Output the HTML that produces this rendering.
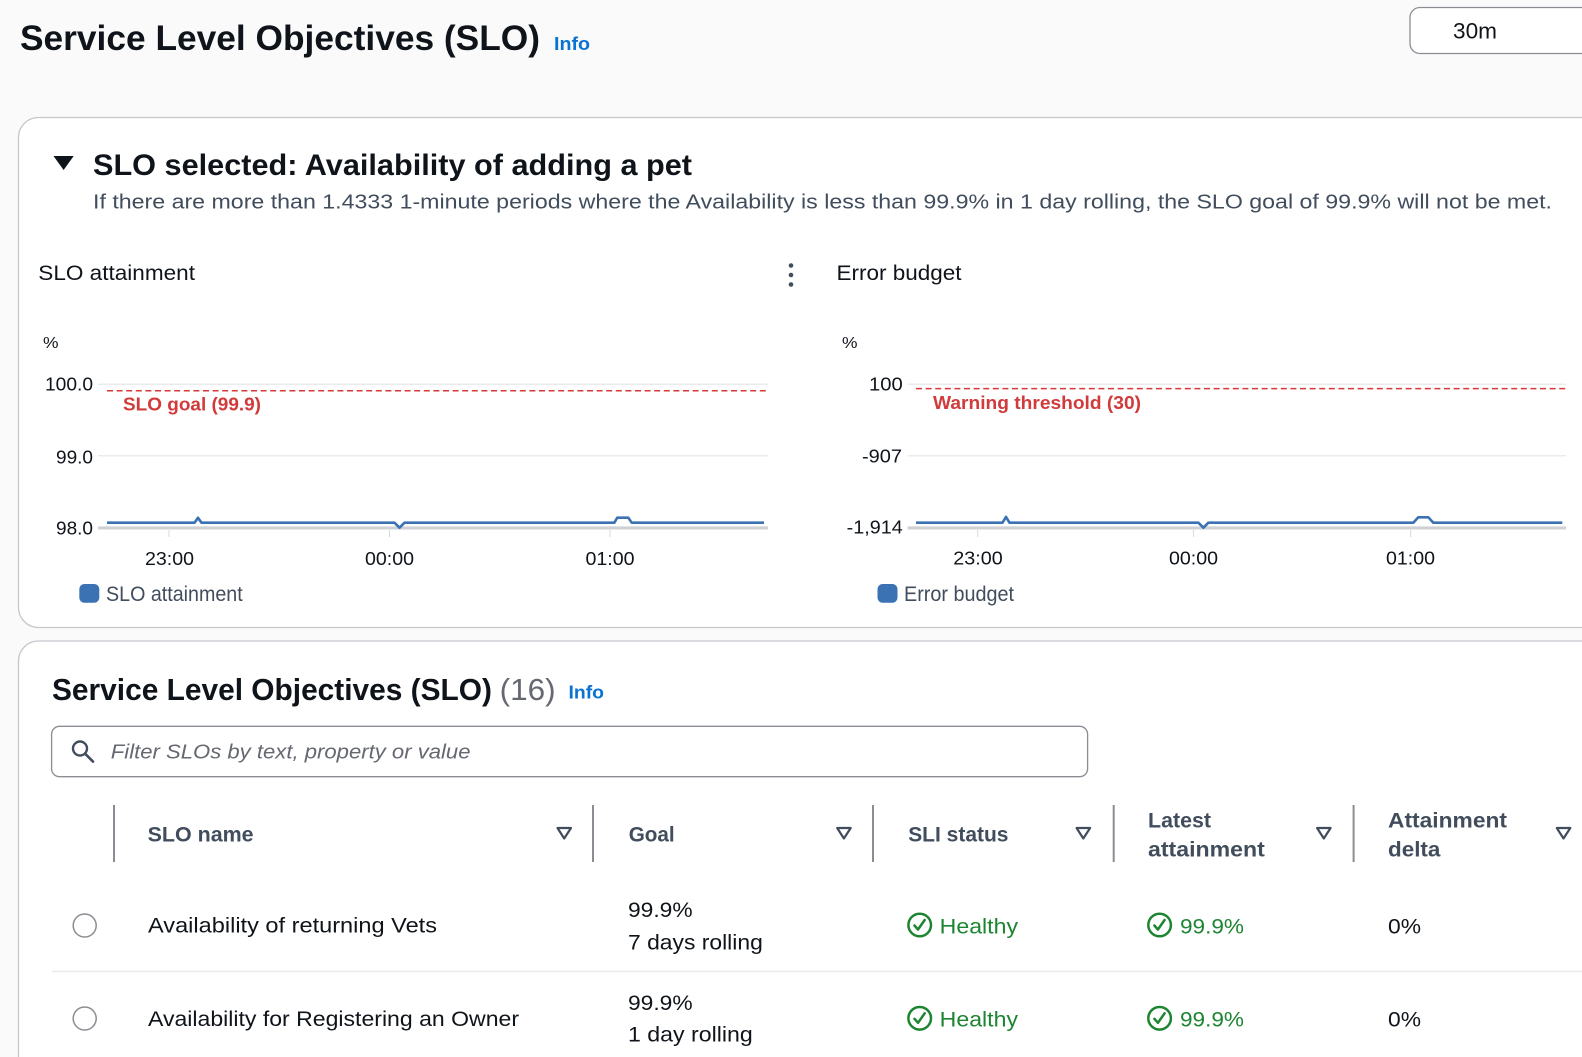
<!DOCTYPE html>
<html><head><meta charset="utf-8"><style>
html,body{margin:0;padding:0;background:#fafafa;width:1582px;height:1057px;overflow:hidden;}
svg{display:block;}
text{font-family:"Liberation Sans",Arial,sans-serif;}
</style></head><body>
<svg width="1582" height="1057" viewBox="0 0 1582 1057" xmlns="http://www.w3.org/2000/svg" overflow="hidden">
<defs><clipPath id="pg"><rect x="0" y="0" width="1582" height="1057"/></clipPath></defs>
<g clip-path="url(#pg)">
<rect x="0" y="0" width="1582" height="1057" fill="#fafafa"/>

<!-- Header -->
<text x="20" y="50" font-size="35" font-weight="bold" fill="#0f141a" textLength="520" lengthAdjust="spacingAndGlyphs">Service Level Objectives (SLO)</text>
<text x="554" y="50" font-size="18" font-weight="bold" fill="#0972d3" textLength="36" lengthAdjust="spacingAndGlyphs">Info</text>
<rect x="1410" y="7.5" width="200" height="46" rx="10" fill="#ffffff" stroke="#8c8c94" stroke-width="1.3"/>
<text x="1453" y="38.5" font-size="22" fill="#0f141a" textLength="44" lengthAdjust="spacingAndGlyphs">30m</text>

<!-- Panel 1 -->
<rect x="18.5" y="117.5" width="1600" height="510" rx="20" fill="#ffffff" stroke="#c6c6cd" stroke-width="1.3"/>
<polygon points="53.5,156 73.7,156 63.6,170" fill="#0f141a"/>
<text x="93" y="175" font-size="29.5" font-weight="bold" fill="#0f141a" textLength="599" lengthAdjust="spacingAndGlyphs">SLO selected: Availability of adding a pet</text>
<text x="93" y="208.3" font-size="20" fill="#414d5c" textLength="1459" lengthAdjust="spacingAndGlyphs">If there are more than 1.4333 1-minute periods where the Availability is less than 99.9% in 1 day rolling, the SLO goal of 99.9% will not be met.</text>

<text x="38.3" y="280" font-size="21" fill="#0f141a" textLength="156.7" lengthAdjust="spacingAndGlyphs">SLO attainment</text>
<circle cx="791" cy="265.5" r="2.3" fill="#414d5c"/>
<circle cx="791" cy="275" r="2.3" fill="#414d5c"/>
<circle cx="791" cy="284.5" r="2.3" fill="#414d5c"/>
<text x="836.5" y="280" font-size="21" fill="#0f141a" textLength="125" lengthAdjust="spacingAndGlyphs">Error budget</text>

<!-- Left chart -->
<text x="43" y="348" font-size="16" fill="#0f141a" textLength="15.5" lengthAdjust="spacingAndGlyphs">%</text>
<line x1="98" y1="384.3" x2="768" y2="384.3" stroke="#e9ebed" stroke-width="1.5"/>
<line x1="98" y1="455.7" x2="768" y2="455.7" stroke="#e9ebed" stroke-width="1.5"/>
<line x1="98" y1="527" x2="768" y2="527" stroke="#e9ebed" stroke-width="1.5"/>
<line x1="98" y1="528" x2="768" y2="528" stroke="#d0d1d5" stroke-width="3"/>
<line x1="169" y1="530" x2="169" y2="537" stroke="#d8d8dc" stroke-width="1"/>
<line x1="389.5" y1="530" x2="389.5" y2="537" stroke="#d8d8dc" stroke-width="1"/>
<line x1="610" y1="530" x2="610" y2="537" stroke="#d8d8dc" stroke-width="1"/>
<text x="45" y="390.7" font-size="18.7" fill="#0f141a" textLength="48" lengthAdjust="spacingAndGlyphs">100.0</text>
<text x="56" y="463.3" font-size="18.7" fill="#0f141a" textLength="37" lengthAdjust="spacingAndGlyphs">99.0</text>
<text x="56" y="534.3" font-size="18.7" fill="#0f141a" textLength="37" lengthAdjust="spacingAndGlyphs">98.0</text>
<line x1="107" y1="390.7" x2="766" y2="390.7" stroke="#d63a3a" stroke-width="1.5" stroke-dasharray="6,3.6"/>
<text x="123" y="410.7" font-size="18.5" font-weight="bold" fill="#d13b3b" textLength="138" lengthAdjust="spacingAndGlyphs">SLO goal (99.9)</text>
<polyline points="107,522.7 194.5,522.7 198,517.7 201.5,522.7 394.5,522.7 399.5,527.7 404.5,522.7 614.3,522.7 617.3,517.7 628.3,517.7 631.7,522.7 764,522.7" fill="none" stroke="#3b72b4" stroke-width="2.6" stroke-linejoin="round"/>
<text x="145" y="565" font-size="18.7" fill="#0f141a" textLength="49" lengthAdjust="spacingAndGlyphs">23:00</text>
<text x="365" y="565" font-size="18.7" fill="#0f141a" textLength="49" lengthAdjust="spacingAndGlyphs">00:00</text>
<text x="585.5" y="565" font-size="18.7" fill="#0f141a" textLength="49" lengthAdjust="spacingAndGlyphs">01:00</text>
<rect x="79.3" y="584" width="20" height="18.7" rx="5" fill="#3b72b4"/>
<text x="106" y="601" font-size="21" fill="#414d5c" textLength="136.7" lengthAdjust="spacingAndGlyphs">SLO attainment</text>

<!-- Right chart -->
<text x="842" y="348" font-size="16" fill="#0f141a" textLength="15.5" lengthAdjust="spacingAndGlyphs">%</text>
<line x1="907.7" y1="384.3" x2="1566" y2="384.3" stroke="#e9ebed" stroke-width="1.5"/>
<line x1="907.7" y1="455.7" x2="1566" y2="455.7" stroke="#e9ebed" stroke-width="1.5"/>
<line x1="907.7" y1="527" x2="1566" y2="527" stroke="#e9ebed" stroke-width="1.5"/>
<line x1="907.7" y1="528" x2="1566" y2="528" stroke="#d0d1d5" stroke-width="3"/>
<line x1="977.7" y1="530" x2="977.7" y2="537" stroke="#d8d8dc" stroke-width="1"/>
<line x1="1193.6" y1="530" x2="1193.6" y2="537" stroke="#d8d8dc" stroke-width="1"/>
<line x1="1410.7" y1="530" x2="1410.7" y2="537" stroke="#d8d8dc" stroke-width="1"/>
<text x="869" y="390.7" font-size="18.7" fill="#0f141a" textLength="33.7" lengthAdjust="spacingAndGlyphs">100</text>
<text x="862" y="462.3" font-size="18.7" fill="#0f141a" textLength="40" lengthAdjust="spacingAndGlyphs">-907</text>
<text x="846.7" y="533.3" font-size="18.7" fill="#0f141a" textLength="56" lengthAdjust="spacingAndGlyphs">-1,914</text>
<line x1="916" y1="388.6" x2="1566" y2="388.6" stroke="#d63a3a" stroke-width="1.5" stroke-dasharray="6,3.6"/>
<text x="933" y="409" font-size="18.5" font-weight="bold" fill="#d13b3b" textLength="208" lengthAdjust="spacingAndGlyphs">Warning threshold (30)</text>
<polyline points="916,522.7 1002.5,522.7 1006,516.9 1009.5,522.7 1198.4,522.7 1203.4,527.7 1208.4,522.7 1413.3,522.7 1418.3,517.3 1428.3,517.3 1433.3,522.7 1562.3,522.7" fill="none" stroke="#3b72b4" stroke-width="2.6" stroke-linejoin="round"/>
<text x="953.3" y="564.3" font-size="18.7" fill="#0f141a" textLength="49.4" lengthAdjust="spacingAndGlyphs">23:00</text>
<text x="1169" y="564.3" font-size="18.7" fill="#0f141a" textLength="49" lengthAdjust="spacingAndGlyphs">00:00</text>
<text x="1386" y="564.3" font-size="18.7" fill="#0f141a" textLength="49" lengthAdjust="spacingAndGlyphs">01:00</text>
<rect x="877.5" y="584" width="20" height="18.7" rx="5" fill="#3b72b4"/>
<text x="904" y="601" font-size="21" fill="#414d5c" textLength="110" lengthAdjust="spacingAndGlyphs">Error budget</text>

<!-- Panel 2 -->
<rect x="18.5" y="641" width="1600" height="440" rx="20" fill="#ffffff" stroke="#c6c6cd" stroke-width="1.3"/>
<text x="52" y="700" font-size="31" font-weight="bold" fill="#0f141a" textLength="440" lengthAdjust="spacingAndGlyphs">Service Level Objectives (SLO)</text>
<text x="499.6" y="700" font-size="31" fill="#656871" textLength="56" lengthAdjust="spacingAndGlyphs">(16)</text>
<text x="568.5" y="698.7" font-size="18" font-weight="bold" fill="#0972d3" textLength="35.5" lengthAdjust="spacingAndGlyphs">Info</text>

<rect x="51.6" y="726.3" width="1036" height="50.4" rx="8" fill="#ffffff" stroke="#8c8c94" stroke-width="1.3"/>
<circle cx="80" cy="748.5" r="7" fill="none" stroke="#414d5c" stroke-width="2.4"/>
<line x1="85.2" y1="753.8" x2="93" y2="761.6" stroke="#414d5c" stroke-width="2.6" stroke-linecap="round"/>
<text x="110.8" y="758.3" font-size="20.5" font-style="italic" fill="#656871" textLength="359.7" lengthAdjust="spacingAndGlyphs">Filter SLOs by text, property or value</text>

<!-- table header -->
<g stroke="#8c8c94" stroke-width="2">
<line x1="114" y1="805" x2="114" y2="862"/>
<line x1="593" y1="805" x2="593" y2="862"/>
<line x1="873" y1="805" x2="873" y2="862"/>
<line x1="1113.7" y1="805" x2="1113.7" y2="862"/>
<line x1="1353.6" y1="805" x2="1353.6" y2="862"/>
</g>
<g fill="none" stroke="#414d5c" stroke-width="2.2" stroke-linejoin="round">
<polygon points="557.5,828 571,828 564.2,838.5"/>
<polygon points="837.2,828 850.7,828 843.9,838.5"/>
<polygon points="1076.6,828 1090.1,828 1083.3,838.5"/>
<polygon points="1317.1,828 1330.6,828 1323.8,838.5"/>
<polygon points="1556.8,828 1570.3,828 1563.5,838.5"/>
</g>
<g font-size="21" font-weight="bold" fill="#414d5c">
<text x="147.6" y="841.5" textLength="106" lengthAdjust="spacingAndGlyphs">SLO name</text>
<text x="628.7" y="841.5" textLength="46" lengthAdjust="spacingAndGlyphs">Goal</text>
<text x="908.2" y="841.5" textLength="100.3" lengthAdjust="spacingAndGlyphs">SLI status</text>
<text x="1148" y="827.5" textLength="63" lengthAdjust="spacingAndGlyphs">Latest</text>
<text x="1148" y="856.5" textLength="116.8" lengthAdjust="spacingAndGlyphs">attainment</text>
<text x="1388" y="827.5" textLength="119" lengthAdjust="spacingAndGlyphs">Attainment</text>
<text x="1388" y="856.5" textLength="52.4" lengthAdjust="spacingAndGlyphs">delta</text>
</g>

<!-- Row 1 -->
<circle cx="84.7" cy="925.5" r="11.5" fill="#ffffff" stroke="#8c8c94" stroke-width="1.5"/>
<g font-size="21" fill="#0f141a">
<text x="148" y="932.7" textLength="289" lengthAdjust="spacingAndGlyphs">Availability of returning Vets</text>
<text x="628" y="917" textLength="64.6" lengthAdjust="spacingAndGlyphs">99.9%</text>
<text x="628" y="949.5" textLength="134.8" lengthAdjust="spacingAndGlyphs">7 days rolling</text>
<text x="1388" y="933.3" textLength="33" lengthAdjust="spacingAndGlyphs">0%</text>
</g>
<g fill="none" stroke="#1d8532" stroke-width="2.5" stroke-linecap="round" stroke-linejoin="round">
<circle cx="919.7" cy="925" r="11.3"/>
<polyline points="914.5,925.5 918,929.5 924.7,920"/>
<circle cx="1159.6" cy="925" r="11.3"/>
<polyline points="1154.4,925.5 1157.9,929.5 1164.6,920"/>
</g>
<g font-size="21" fill="#1d8532">
<text x="939.7" y="933.3" textLength="78.3" lengthAdjust="spacingAndGlyphs">Healthy</text>
<text x="1180" y="933.3" textLength="64" lengthAdjust="spacingAndGlyphs">99.9%</text>
</g>
<line x1="52" y1="971.5" x2="1582" y2="971.5" stroke="#e9ebed" stroke-width="1.5"/>

<!-- Row 2 -->
<circle cx="84.7" cy="1018.5" r="11.5" fill="#ffffff" stroke="#8c8c94" stroke-width="1.5"/>
<g font-size="21" fill="#0f141a">
<text x="148" y="1026" textLength="371" lengthAdjust="spacingAndGlyphs">Availability for Registering an Owner</text>
<text x="628" y="1010" textLength="64.6" lengthAdjust="spacingAndGlyphs">99.9%</text>
<text x="628" y="1041.7" textLength="124.8" lengthAdjust="spacingAndGlyphs">1 day rolling</text>
<text x="1388" y="1026.7" textLength="33" lengthAdjust="spacingAndGlyphs">0%</text>
</g>
<g fill="none" stroke="#1d8532" stroke-width="2.5" stroke-linecap="round" stroke-linejoin="round">
<circle cx="919.7" cy="1018.3" r="11.3"/>
<polyline points="914.5,1018.8 918,1022.8 924.7,1013.3"/>
<circle cx="1159.6" cy="1018.3" r="11.3"/>
<polyline points="1154.4,1018.8 1157.9,1022.8 1164.6,1013.3"/>
</g>
<g font-size="21" fill="#1d8532">
<text x="939.7" y="1026.7" textLength="78.3" lengthAdjust="spacingAndGlyphs">Healthy</text>
<text x="1180" y="1026.7" textLength="64" lengthAdjust="spacingAndGlyphs">99.9%</text>
</g>
</g>
</svg>
</body></html>
